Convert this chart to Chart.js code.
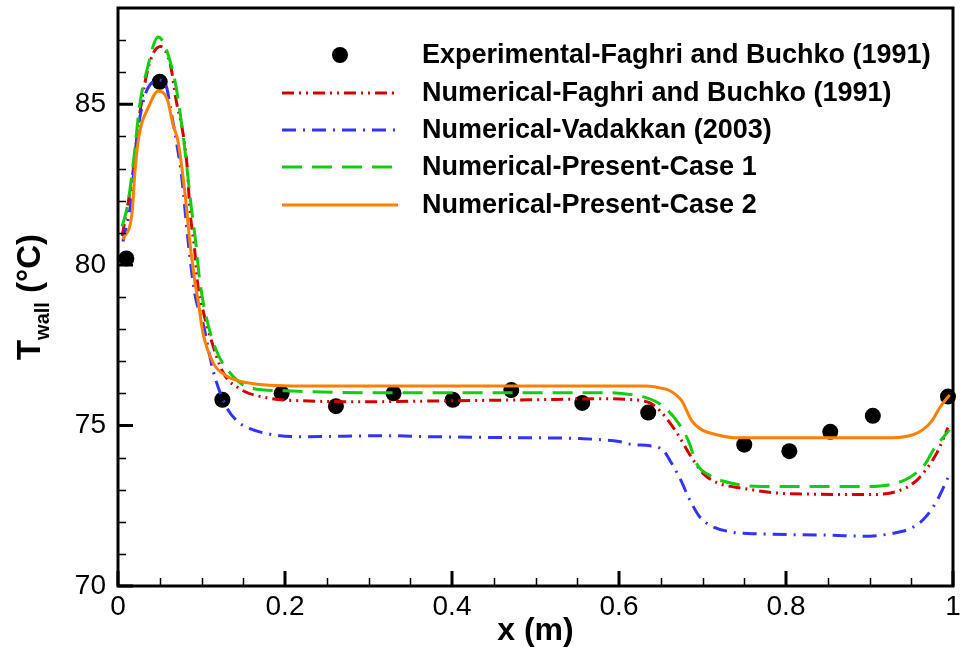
<!DOCTYPE html>
<html lang="en">
<head>
    <meta charset="UTF-8">
    <title>Wall temperature along the heat pipe</title>
    <style>
        body {
            margin: 0;
            background: #fff;
            overflow: hidden;
        }
        canvas {
            display: block;
        }
    </style>
</head>
<body>
    <canvas id="twallChart" width="961" height="653"></canvas>

    <script src="https://cdn.jsdelivr.net/npm/chart.js"></script>
    <script>
        // Tick labels
        const xTicks = [0, 0.2, 0.4, 0.6, 0.8, 1];
        const yTicks = [70, 75, 80, 85];

        // Experimental - Faghri and Buchko (1991)
        const xExp = [0.01, 0.05, 0.125, 0.196, 0.261, 0.33, 0.401, 0.471, 0.556, 0.635, 0.75, 0.804, 0.853, 0.904, 0.994];
        const yExp = [80.2, 85.7, 75.8, 76.0, 75.6, 76.0, 75.8, 76.1, 75.7, 75.4, 74.4, 74.2, 74.8, 75.3, 75.9];

        // Numerical - Faghri and Buchko (1991)
        const xFaghri = [0.005, 0.018, 0.026, 0.038, 0.051, 0.063, 0.07, 0.077, 0.083, 0.086, 0.092, 0.095, 0.102, 0.112, 0.126, 0.146, 0.178, 0.218, 0.3, 0.4, 0.5, 0.577, 0.617, 0.637, 0.649, 0.669, 0.687, 0.701, 0.717, 0.749, 0.8, 0.9, 0.928, 0.952, 0.967, 0.981, 0.994];
        const yFaghri = [80.9, 82.9, 84.7, 86.3, 86.8, 86.2, 85.07, 84.23, 83.0, 81.75, 80.42, 79.49, 78.56, 77.63, 76.64, 76.14, 75.86, 75.77, 75.74, 75.77, 75.8, 75.83, 75.8, 75.7, 75.46, 74.78, 74.0, 73.5, 73.22, 73.04, 72.88, 72.85, 72.91, 73.19, 73.6, 74.16, 74.93];

        // Numerical - Vadakkan (2003)
        const xVadakkan = [0.006, 0.016, 0.022, 0.03, 0.038, 0.05, 0.058, 0.063, 0.07, 0.076, 0.084, 0.092, 0.102, 0.114, 0.128, 0.142, 0.158, 0.186, 0.218, 0.326, 0.374, 0.473, 0.553, 0.6, 0.617, 0.637, 0.653, 0.661, 0.673, 0.685, 0.697, 0.709, 0.737, 0.76, 0.856, 0.892, 0.928, 0.952, 0.967, 0.981, 0.994];
        const yVadakkan = [80.73, 82.06, 83.83, 85.07, 85.6, 85.75, 85.55, 84.85, 83.83, 82.8, 80.73, 79.1, 78.16, 76.7, 75.67, 75.15, 74.9, 74.71, 74.65, 74.68, 74.65, 74.62, 74.59, 74.5, 74.4, 74.37, 74.22, 73.91, 73.35, 72.67, 72.14, 71.89, 71.67, 71.63, 71.58, 71.55, 71.64, 71.83, 72.14, 72.67, 73.38];

        // Numerical - Present - Case 1
        const xCase1 = [0.005, 0.011, 0.018, 0.026, 0.035, 0.048, 0.065, 0.072, 0.08, 0.088, 0.093, 0.098, 0.106, 0.118, 0.134, 0.158, 0.198, 0.3, 0.45, 0.586, 0.617, 0.633, 0.649, 0.669, 0.683, 0.693, 0.709, 0.737, 0.77, 0.85, 0.9, 0.925, 0.948, 0.967, 0.976, 0.988, 0.996];
        const yCase1 = [81.2, 81.8, 83.1, 84.98, 86.1, 87.1, 86.1, 85.16, 83.6, 81.75, 80.73, 79.49, 78.34, 77.32, 76.64, 76.17, 76.08, 76.02, 76.02, 76.02, 75.95, 75.86, 75.67, 75.15, 74.53, 73.81, 73.44, 73.19, 73.1, 73.1, 73.1, 73.16, 73.38, 73.81, 74.22, 74.62, 74.87];

        // Numerical - Present - Case 2
        const xCase2 = [0.006, 0.017, 0.02, 0.024, 0.038, 0.048, 0.059, 0.066, 0.072, 0.08, 0.086, 0.092, 0.096, 0.102, 0.114, 0.13, 0.155, 0.218, 0.35, 0.5, 0.577, 0.633, 0.649, 0.661, 0.675, 0.687, 0.699, 0.717, 0.737, 0.757, 0.85, 0.928, 0.952, 0.964, 0.975, 0.984, 0.996];
        const yCase2 = [80.79, 81.66, 82.8, 83.83, 85.0, 85.41, 85.16, 84.36, 83.83, 82.28, 80.73, 79.49, 78.87, 77.85, 76.95, 76.54, 76.33, 76.23, 76.23, 76.23, 76.23, 76.23, 76.17, 76.08, 75.77, 75.15, 74.87, 74.71, 74.62, 74.62, 74.62, 74.62, 74.71, 74.87, 75.15, 75.55, 75.95];

        function toPoints(xs, ys) {
            return xs.map((x, i) => ({ x: x, y: ys[i] }));
        }

        function curve(label, xs, ys, color, dash, order) {
            return {
                label: label,
                data: toPoints(xs, ys),
                showLine: true,
                borderColor: color,
                backgroundColor: color,
                borderWidth: 3,
                borderDash: dash,
                pointRadius: 0,
                cubicInterpolationMode: 'monotone',
                order: order
            };
        }

        // frame, inward tick marks, axis titles and legend
        const decorations = {
            id: 'decorations',
            afterDatasetsDraw(chart) {
                const ctx = chart.ctx;
                const a = chart.chartArea;
                const sx = chart.scales.x;
                const sy = chart.scales.y;
                ctx.save();
                ctx.strokeStyle = '#000';
                ctx.setLineDash([]);

                // minor ticks
                ctx.lineWidth = 1.5;
                ctx.beginPath();
                for (let i = 1; i < 20; i++) {
                    if (i % 4 === 0) continue;
                    const px = Math.round(sx.getPixelForValue(i / 20)) + 0.5;
                    ctx.moveTo(px, a.bottom);
                    ctx.lineTo(px, a.bottom - 8);
                }
                for (let v = 71; v < 88; v++) {
                    if (v % 5 === 0) continue;
                    const py = Math.round(sy.getPixelForValue(v)) + 0.5;
                    ctx.moveTo(a.left, py);
                    ctx.lineTo(a.left + 8, py);
                }
                ctx.stroke();

                // major ticks
                ctx.lineWidth = 3;
                ctx.beginPath();
                xTicks.forEach(v => {
                    const px = sx.getPixelForValue(v);
                    ctx.moveTo(px, a.bottom);
                    ctx.lineTo(px, a.bottom - 15);
                });
                yTicks.forEach(v => {
                    const py = sy.getPixelForValue(v);
                    ctx.moveTo(a.left, py);
                    ctx.lineTo(a.left + 15, py);
                });
                ctx.stroke();

                // frame
                ctx.lineWidth = 3;
                ctx.strokeRect(a.left, a.top, a.right - a.left, a.bottom - a.top);

                // x axis title
                ctx.fillStyle = '#000';
                ctx.font = 'bold 32px Arial, "Liberation Sans", sans-serif';
                ctx.textAlign = 'center';
                ctx.textBaseline = 'alphabetic';
                ctx.fillText('x (m)', (a.left + a.right) / 2, 640);

                // y axis title with subscript
                const main = 'bold 33px Arial, "Liberation Sans", sans-serif';
                const sub = 'bold 20px Arial, "Liberation Sans", sans-serif';
                ctx.font = main;
                const wT = ctx.measureText('T').width;
                const wTail = ctx.measureText(' (\u00B0C)').width;
                ctx.font = sub;
                const wSub = ctx.measureText('wall').width;
                const total = wT + wSub + wTail;
                ctx.translate(40, 297 + total / 2);
                ctx.rotate(-Math.PI / 2);
                ctx.textAlign = 'left';
                ctx.font = main;
                ctx.fillText('T', 0, 0);
                ctx.font = sub;
                ctx.fillText('wall', wT, 9);
                ctx.font = main;
                ctx.fillText(' (\u00B0C)', wT + wSub, 0);
                ctx.restore();

                // legend
                ctx.save();
                const rows = [55, 93, 130, 167, 205];
                ctx.font = 'bold 27px Arial, "Liberation Sans", sans-serif';
                ctx.textAlign = 'left';
                ctx.textBaseline = 'middle';
                chart.data.datasets.forEach((ds, i) => {
                    const ry = rows[i];
                    if (ds.showLine) {
                        ctx.strokeStyle = ds.borderColor;
                        ctx.lineWidth = ds.borderWidth;
                        ctx.setLineDash(ds.borderDash || []);
                        ctx.beginPath();
                        ctx.moveTo(282, ry);
                        ctx.lineTo(398, ry);
                        ctx.stroke();
                    } else {
                        ctx.fillStyle = ds.backgroundColor;
                        ctx.beginPath();
                        ctx.arc(340, ry, ds.pointRadius, 0, Math.PI * 2);
                        ctx.fill();
                    }
                    ctx.fillStyle = '#000';
                    ctx.fillText(ds.label, 422, ry + 1);
                });
                ctx.restore();
            }
        };

        const ctx = document.getElementById('twallChart').getContext('2d');
        const twallChart = new Chart(ctx, {
            type: 'scatter',
            data: {
                datasets: [
                    {
                        label: 'Experimental-Faghri and Buchko (1991)',
                        data: toPoints(xExp, yExp),
                        showLine: false,
                        pointRadius: 8,
                        pointHoverRadius: 8,
                        backgroundColor: '#000',
                        borderColor: '#000',
                        borderWidth: 0,
                        clip: false,
                        order: 10
                    },
                    curve('Numerical-Faghri and Buchko (1991)', xFaghri, yFaghri, '#d10000', [12, 5, 2, 5, 2, 5], 4),
                    curve('Numerical-Vadakkan (2003)', xVadakkan, yVadakkan, '#3333ff', [14, 7, 2, 7], 3),
                    curve('Numerical-Present-Case 1', xCase1, yCase1, '#14cc14', [20, 10], 2),
                    curve('Numerical-Present-Case 2', xCase2, yCase2, '#ff8000', [], 1)
                ]
            },
            options: {
                responsive: false,
                animation: false,
                devicePixelRatio: 1,
                layout: {
                    padding: { top: 5, right: 8, left: 0, bottom: 0 }
                },
                scales: {
                    x: {
                        type: 'linear',
                        min: 0,
                        max: 1,
                        grid: { display: false, drawTicks: false },
                        border: { display: false },
                        afterBuildTicks: s => { s.ticks = xTicks.map(v => ({ value: v })); },
                        afterFit: s => {
                            s.height = 67;
                            s.paddingLeft = 0;
                            s.paddingRight = 0;
                        },
                        ticks: {
                            color: '#000',
                            padding: 4,
                            maxRotation: 0,
                            font: { family: 'Arial, "Liberation Sans", sans-serif', size: 28 },
                            callback: v => String(v)
                        }
                    },
                    y: {
                        type: 'linear',
                        min: 70,
                        max: 88,
                        grid: { display: false, drawTicks: false },
                        border: { display: false },
                        afterBuildTicks: s => { s.ticks = yTicks.map(v => ({ value: v })); },
                        afterFit: s => {
                            s.width = 118;
                            s.paddingTop = 0;
                            s.paddingBottom = 0;
                        },
                        ticks: {
                            color: '#000',
                            padding: 12,
                            font: { family: 'Arial, "Liberation Sans", sans-serif', size: 28 },
                            callback: v => String(v)
                        }
                    }
                },
                plugins: {
                    legend: { display: false },
                    tooltip: { enabled: false }
                }
            },
            plugins: [decorations]
        });
    </script>
</body>
</html>
